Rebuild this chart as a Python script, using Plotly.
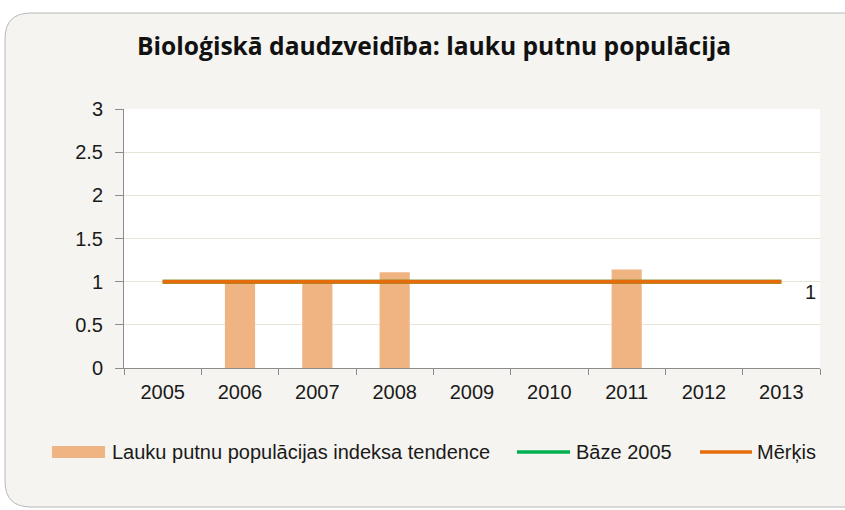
import plotly.graph_objects as go

years = ["2005", "2006", "2007", "2008", "2009", "2010", "2011", "2012", "2013"]
trend = [None, 1.0, 1.0, 1.11, None, None, 1.14, None, None]
base_2005 = [1, 1, 1, 1, 1, 1, 1, 1, 1]
target = [1, 1, 1, 1, 1, 1, 1, 1, 1]
y_ticks = [0, 0.5, 1, 1.5, 2, 2.5, 3]
y_tick_text = ["0", "0.5", "1", "1.5", "2", "2.5", "3"]

title = "Bioloģiskā daudzveidība: lauku putnu populācija"
legend_names = ["Lauku putnu populācijas indeksa tendence", "Bāze 2005", "Mērķis"]

W, H = 845, 510
ML, MR, MT, MB = 124, 25, 109, 142
PW = W - ML - MR
PH = H - MT - MB


def px(x):
    return (x - ML) / PW


def py(y):
    return (H - MB - y) / PH


BAR_C = "#f0b483"
BASE_C = "#00b050"
TGT_C = "#e46c0a"
FONT = "Liberation Sans"

fig = go.Figure()
fig.add_trace(go.Bar(x=years, y=trend, marker=dict(color=BAR_C, line=dict(width=0)),
                     width=0.39, name=legend_names[0], showlegend=False))
fig.add_trace(go.Scatter(x=years, y=base_2005, mode="lines", line=dict(color=BASE_C, width=4),
                         name=legend_names[1], showlegend=False))
fig.add_trace(go.Scatter(x=years, y=target, mode="lines", line=dict(color=TGT_C, width=4),
                         name=legend_names[2], showlegend=False))

# rounded frame path in pixel coords converted to paper coords
x0, x1, y0, y1, r = 5, 870, 13, 507, 26
path = (f"M {px(x0 + r)},{py(y0)} L {px(x1 - r)},{py(y0)} "
        f"Q {px(x1)},{py(y0)} {px(x1)},{py(y0 + r)} "
        f"L {px(x1)},{py(y1 - r)} Q {px(x1)},{py(y1)} {px(x1 - r)},{py(y1)} "
        f"L {px(x0 + r)},{py(y1)} Q {px(x0)},{py(y1)} {px(x0)},{py(y1 - r)} "
        f"L {px(x0)},{py(y0 + r)} Q {px(x0)},{py(y0)} {px(x0 + r)},{py(y0)} Z")

shapes = [
    dict(type="path", path=path, xref="paper", yref="paper", layer="below",
         fillcolor="#f5f4f0", line=dict(color="#b8b8b8", width=1)),
    dict(type="rect", xref="paper", yref="paper", x0=0, x1=1, y0=0, y1=1, layer="below",
         fillcolor="white", line=dict(width=0)),
]

# manual legend
leg_y = 452
items = [(52, 105, 110, legend_names[0], "bar", BAR_C),
         (517, 570, 574, legend_names[1], "line", BASE_C),
         (700, 752, 755, legend_names[2], "line", TGT_C)]
annotations = []
for sx0, sx1, tx, name, kind, col in items:
    if kind == "bar":
        shapes.append(dict(type="rect", xref="paper", yref="paper", x0=px(sx0), x1=px(sx1),
                           y0=py(leg_y + 6), y1=py(leg_y - 6), fillcolor=col, line=dict(width=0)))
    else:
        shapes.append(dict(type="line", xref="paper", yref="paper", x0=px(sx0), x1=px(sx1),
                           y0=py(leg_y), y1=py(leg_y), line=dict(color=col, width=3.5)))
    annotations.append(dict(text=name, xref="paper", yref="paper", x=px(tx), y=py(leg_y),
                            xanchor="left", yanchor="middle", showarrow=False,
                            font=dict(family=FONT, size=20, color="#1a1a1a")))

annotations.append(dict(text="1", x=len(years) - 1, y=target[-1], xref="x", yref="y",
                        xshift=29, yshift=-10, showarrow=False,
                        font=dict(family=FONT, size=20, color="#1a1a1a")))
annotations.append(dict(text="<b>" + title + "</b>", xref="paper", yref="paper",
                        x=px(434), y=py(45), xanchor="center", yanchor="middle", showarrow=False,
                        font=dict(family="Open Sans", size=24.6, color="#111111")))

fig.update_layout(
    width=W, height=H,
    margin=dict(l=ML, r=MR, t=MT, b=MB),
    paper_bgcolor="white", plot_bgcolor="white",
    shapes=shapes, annotations=annotations, showlegend=False,
    bargap=0.61,
    font=dict(family=FONT, size=20, color="#1a1a1a"),
)
fig.update_xaxes(type="category", categoryorder="array", categoryarray=years,
                 range=[-0.5, len(years) - 0.5], automargin=False, tickangle=0,
                 showline=True, linecolor="#8c8c8c", linewidth=1,
                 ticks="outside", tickson="boundaries", ticklen=6, tickcolor="#8c8c8c",
                 showgrid=False, tickfont=dict(family=FONT, size=20, color="#1a1a1a"),
                 ticklabelstandoff=6)
fig.update_yaxes(range=[0, 3], tickvals=y_ticks, ticktext=y_tick_text, automargin=False,
                 showline=True, linecolor="#8c8c8c", linewidth=1,
                 ticks="outside", ticklen=8, tickcolor="#8c8c8c",
                 showgrid=True, gridcolor="#e6e4d6", gridwidth=1, zeroline=False,
                 tickfont=dict(family=FONT, size=20, color="#1a1a1a"),
                 ticklabelstandoff=8)

fig.write_html("out.html", config={"displayModeBar": False},
               post_script="document.body.style.margin='0';document.body.style.overflow='hidden';")
